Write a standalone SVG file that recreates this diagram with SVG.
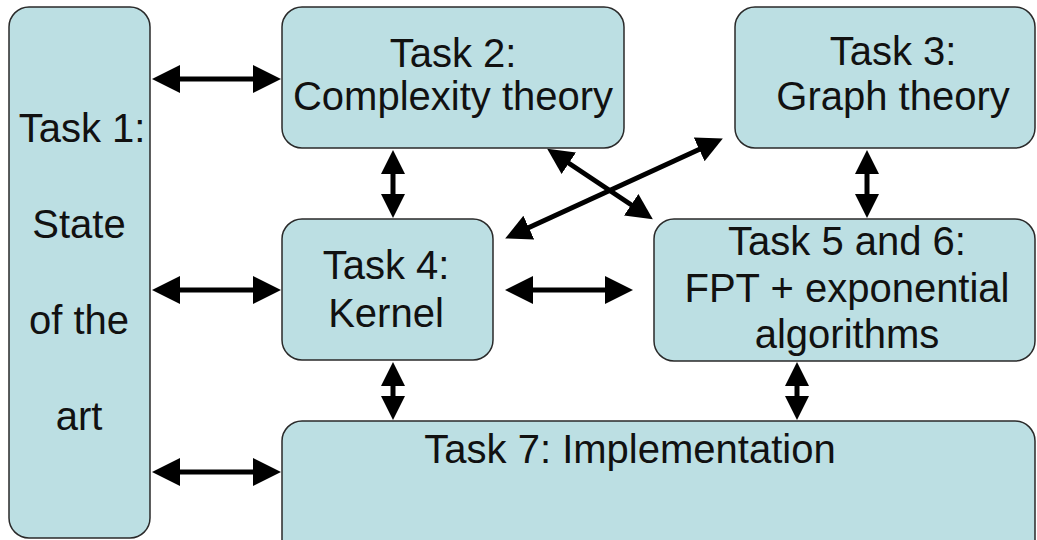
<svg xmlns="http://www.w3.org/2000/svg" width="1037" height="540" viewBox="0 0 1037 540">
<style>
.box{fill:#bcdfe3;stroke:#2a2a2a;stroke-width:1.5}
.t{font-family:"Liberation Sans",Arial,sans-serif;font-size:40px;fill:#111;text-anchor:middle}
.c{stroke:#000;stroke-width:5;fill:none}
.h{marker-start:url(#ah);marker-end:url(#ah)}
.v{marker-start:url(#av);marker-end:url(#av)}
.d{marker-start:url(#ad);marker-end:url(#ad)}
</style>
<defs>
<marker id="ah" markerUnits="userSpaceOnUse" markerWidth="28" markerHeight="28" refX="14" refY="14" orient="auto-start-reverse" viewBox="0 0 28 28"><path d="M0,0 L28,14 L0,28 z" fill="#000"/></marker>
<marker id="av" markerUnits="userSpaceOnUse" markerWidth="24" markerHeight="24" refX="12" refY="12" orient="auto-start-reverse" viewBox="0 0 24 24"><path d="M0,0 L24,12 L0,24 z" fill="#000"/></marker>
<marker id="ad" markerUnits="userSpaceOnUse" markerWidth="26" markerHeight="26" refX="13" refY="13" orient="auto-start-reverse" viewBox="0 0 26 26"><path d="M0,0 L26,13 L0,26 z" fill="#000"/></marker>
</defs>
<rect width="1037" height="540" fill="#fff"/>
<g id="task1">
<rect class="box" x="9" y="7" width="141" height="531" rx="20"/>
<text class="t" x="82" y="142">Task 1:</text>
<text class="t" x="79" y="238">State</text>
<text class="t" x="79" y="334">of the</text>
<text class="t" x="79" y="430">art</text>
</g>
<g id="task2">
<rect class="box" x="282" y="7" width="342" height="141" rx="20"/>
<text class="t" x="453" y="67">Task 2:</text>
<text class="t" x="453" y="110">Complexity theory</text>
</g>
<g id="task3">
<rect class="box" x="735" y="7" width="300" height="141" rx="20"/>
<text class="t" x="893" y="65">Task 3:</text>
<text class="t" x="893" y="110">Graph theory</text>
</g>
<g id="task4">
<rect class="box" x="282" y="219" width="211" height="141" rx="20"/>
<text class="t" x="386" y="279">Task 4:</text>
<text class="t" x="386" y="327">Kernel</text>
</g>
<g id="task56">
<rect class="box" x="654" y="219" width="381" height="142" rx="20"/>
<text class="t" x="847" y="255">Task 5 and 6:</text>
<text class="t" x="847" y="302">FPT + exponential</text>
<text class="t" x="847" y="348">algorithms</text>
</g>
<g id="task7">
<rect class="box" x="282" y="421" width="753" height="140" rx="20"/>
<text class="t" x="630" y="463">Task 7: Implementation</text>
</g>
<g id="connectors">
<line class="c h" x1="166" y1="79" x2="267" y2="79"/>
<line class="c h" x1="166" y1="290" x2="267" y2="290"/>
<line class="c h" x1="166" y1="472" x2="267" y2="472"/>
<line class="c h" x1="519" y1="290" x2="619" y2="290"/>
<line class="c v" x1="393" y1="162" x2="393" y2="206"/>
<line class="c v" x1="393" y1="374" x2="393" y2="408"/>
<line class="c v" x1="867" y1="162" x2="867" y2="206"/>
<line class="c v" x1="797" y1="374" x2="797" y2="408"/>
<line class="c d" x1="558" y1="156" x2="642" y2="212"/>
<line class="c d" x1="517" y1="233" x2="711" y2="144"/>
</g>
</svg>
